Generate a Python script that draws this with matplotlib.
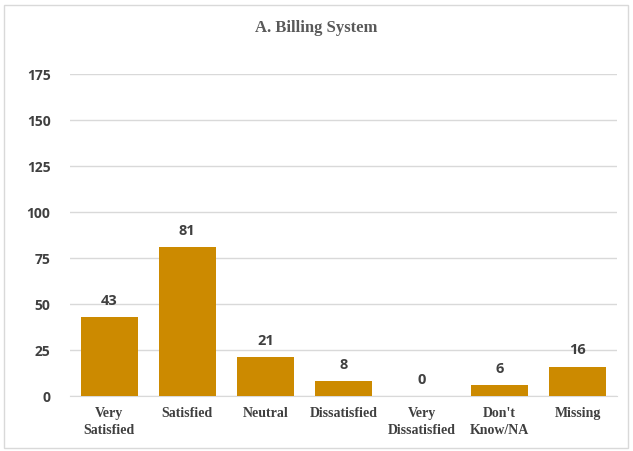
import matplotlib.pyplot as plt
from matplotlib.patches import Rectangle

categories = ['Very\nSatisfied', 'Satisfied', 'Neutral', 'Dissatisfied',
              'Very\nDissatisfied', "Don't\nKnow/NA", 'Missing']
counts = [43, 81, 21, 8, 0, 6, 16]
yticks = [0, 25, 50, 75, 100, 125, 150, 175]

bar_color = '#CC8A00'

fig = plt.figure(figsize=(6.33, 4.51), dpi=100)
fig.patches.append(Rectangle((4 / 633, 3 / 451), 624 / 633, 443 / 451,
                             transform=fig.transFigure, fill=False,
                             edgecolor='#d9d9d9', linewidth=1))

ax = fig.add_axes([70 / 633, 1 - 396 / 451, 547 / 633, 322 / 451])
x = range(len(categories))
ax.bar(x, counts, width=0.73, color=bar_color, zorder=3)

for xi, v in zip(x, counts):
    ax.text(xi, v + 5, str(v), ha='center', va='bottom', fontsize=10.5,
            fontweight='bold', color='#404040', family='Open Sans')

ax.set_xlim(-0.5, len(categories) - 0.5)
ax.set_ylim(0, 175)
ax.set_yticks(yticks)
ax.set_yticklabels([str(t) for t in yticks], fontsize=10, fontweight='bold',
                   color='#404040', family='Open Sans')
ax.set_xticks(list(x))
ax.set_xticklabels(categories, fontsize=10, fontweight='bold', color='#404040',
                   family='Liberation Serif', linespacing=1.4)
ax.tick_params(axis='both', length=0)
ax.tick_params(axis='y', pad=14)
ax.tick_params(axis='x', pad=8)
ax.grid(axis='y', color='#d9d9d9', linewidth=1, zorder=0)
for s in ['top', 'right', 'left']:
    ax.spines[s].set_visible(False)
ax.spines['bottom'].set_color('#d9d9d9')

fig.text(0.5, 1 - 28 / 451, 'A. Billing System', ha='center', va='center',
         fontsize=12, fontweight='bold', color='#595959', family='Liberation Serif')

fig.savefig('out.png', dpi=100)
